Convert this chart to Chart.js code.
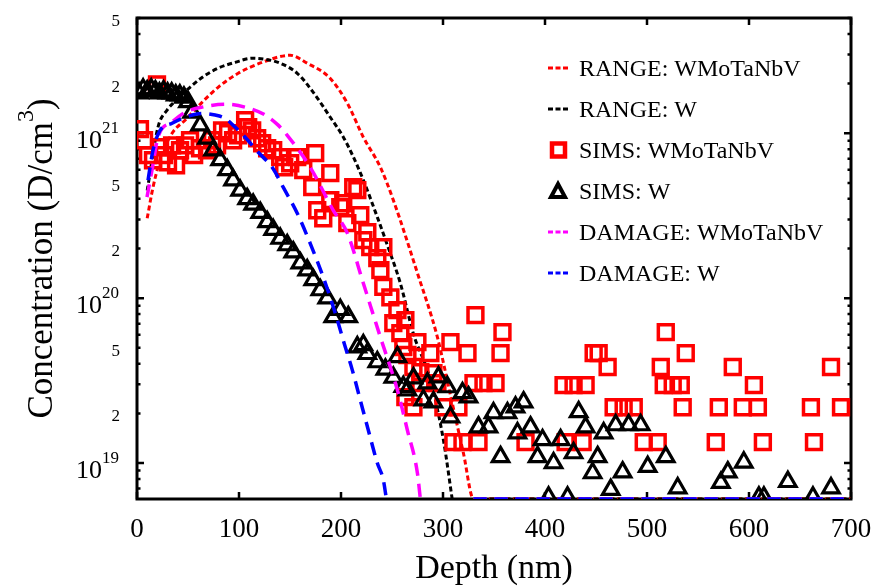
<!DOCTYPE html>
<html>
<head>
<meta charset="utf-8">
<script src="https://cdn.jsdelivr.net/npm/chart.js@4.4.1/dist/chart.umd.min.js"></script>
<style>
  html, body { margin: 0; padding: 0; background: #fff; }
</style>
</head>
<body>
<canvas id="myChart" width="874" height="587"></canvas>
<script>
// depth in nm, concentration in D/cm^3
const rangeWmtDepth = [10, 15.7, 22.6, 34.4, 47.1, 63.8, 79.5, 99.2, 122.7, 150.2, 166.9, 189.5, 206.2, 221.9, 238.6, 251.3, 274.9, 294.5, 307.3, 320, 330, 700];
const rangeWmtConc  = [3.05e20, 4.7e20, 6.86e20, 1.0e21, 1.2e21, 1.54e21, 1.9e21, 2.31e21, 2.69e21, 2.97e21, 2.66e21, 2.15e21, 1.52e21, 9.46e20, 6.22e20, 3.93e20, 1.42e20, 5.8e19, 2.58e19, 1.15e19, 6.05e18, 6.05e18];

const rangeWDepth = [10, 20.6, 29.5, 40.3, 52, 63.8, 79.5, 96.2, 112.9, 125.7, 140.4, 157.1, 172.8, 189.5, 202.2, 212, 221.9, 235.6, 245.4, 258.2, 270.9, 287.6, 300.4, 309, 320, 330, 700];
const rangeWConc  = [4.5e20, 1.09e21, 1.38e21, 1.63e21, 1.9e21, 2.18e21, 2.48e21, 2.69e21, 2.85e21, 2.81e21, 2.66e21, 2.31e21, 1.77e21, 1.25e21, 9.5e20, 7.2e20, 5.2e20, 3.1e20, 2.1e20, 1.23e20, 6.1e19, 3.2e19, 1.38e19, 6.05e18, null, 6.05e18, 6.05e18];

const damageWmtDepth = [9.8, 14.7, 20.6, 34.4, 47.1, 63.8, 86.4, 106, 125.7, 138.4, 147.3, 169.8, 192.4, 206.2, 221.9, 238.6, 255.3, 265.1, 274.9, 277.8, 300, 330, 700];
const damageWmtConc  = [4.1e20, 5.97e20, 9.46e20, 1.17e21, 1.34e21, 1.44e21, 1.5e21, 1.44e21, 1.29e21, 1.12e21, 9.72e20, 6.22e20, 3.41e20, 2.48e20, 1.23e20, 5.8e19, 2.77e19, 1.58e19, 8.7e18, 6.05e18, null, 6.05e18, 6.05e18];

const damageWDepth = [10.8, 15.7, 22.6, 34.4, 47.1, 63.8, 76.6, 86.4, 96.2, 106, 118.8, 132.5, 143.3, 157.1, 169.8, 182.6, 194.4, 204.2, 211.1, 218.9, 226.8, 235.6, 241.5, 244.5, 300, 330, 700];
const damageWConc  = [5.19e20, 7.89e20, 1.04e21, 1.15e21, 1.25e21, 1.32e21, 1.29e21, 1.23e21, 1.09e21, 9.46e20, 7.67e20, 6.22e20, 4.71e20, 3.27e20, 2.15e20, 1.34e20, 8.1e19, 5.05e19, 3.66e19, 2.41e19, 1.58e19, 1.0e19, 7.9e18, 6.05e18, null, 6.05e18, 6.05e18];

const simsWDepth = [2, 6, 10, 14, 18, 22, 26, 30, 34, 38, 42, 46, 50,
  54, 61.8, 68.7, 74.6, 81.5, 88.4, 94.2, 101.1, 108, 113.9, 120.8, 127.6, 133.5, 140.4, 147.3, 153.2, 160.1, 166.9, 172.8, 179.7, 186.5,
  192.4, 199.3, 207.1, 216, 221.9, 225.8, 235.6, 243.5, 251.3, 255.3, 261.1,
  265.1, 271, 280.8, 284.7, 290.6, 295.5, 304.3, 307.3, 319.1, 325, 334.8, 344.6, 349.5, 356.4, 363.2, 371.1, 373, 379, 385.8, 392.7, 397.6,
  403.5, 408.4, 415.3, 422.1, 428, 433, 439.8, 446.7, 451.6, 457.5, 464.4, 469.3, 476.1, 482, 493.8, 500.7, 518.4, 530.1,
  572.4, 579.2, 594.9, 609.7, 614.6, 638.1, 662.7, 680.4];
const simsWConc = [1.75e21, 1.85e21, 1.8e21, 1.85e21, 1.8e21, 1.75e21, 1.8e21, 1.75e21, 1.75e21, 1.7e21, 1.7e21, 1.65e21, 1.55e21,
  1.34e21, 1.12e21, 9.3e20, 7.9e20, 6.9e20, 6.0e20, 5.2e20, 4.5e20, 4.0e20, 3.7e20, 3.3e20, 2.9e20, 2.6e20, 2.3e20, 2.1e20, 1.9e20, 1.63e20, 1.48e20, 1.29e20, 1.12e20, 1.0e20,
  7.7e19, 8.5e19, 7.7e19, 5.05e19, 5.2e19, 4.6e19, 4.1e19, 3.7e19, 3.3e19, 4.4e19, 2.9e19,
  2.77e19, 3.27e19, 2.41e19, 3.05e19, 2.34e19, 3.32e19, 2.89e19, 1.9e19, 2.66e19, 2.51e19, 1.65e19, 1.65e19, 2.01e19, 1.09e19, 2.01e19, 2.18e19, 1.52e19, 2.34e19, 1.65e19, 1.09e19, 1.38e19,
  6.2e18, 1.0e19, 1.38e19, 6.2e18, 1.15e19, 2.04e19, 1.65e19, 8.7e18, 1.09e19, 1.52e19, 6.9e18, 1.7e19, 8.8e18, 1.7e19, 1.7e19, 9.5e18, 1.09e19, 7.05e18,
  7.6e18, 8.8e18, 1.01e19, 6.2e18, 6.2e18, 7.7e18, 6.2e18, 7.05e18];

const simsWmtDepth = [2.9, 6.9, 10.8, 15.7, 19.6, 22.6, 26.5, 30.4, 34.4, 38.3, 42.2, 47.1, 52, 56, 61.8, 68.7, 73.6, 78.5, 83.4, 89.3, 94.2, 99.2,
  106, 109, 112.9, 117.8, 122.7, 127.6, 133.5, 140.4, 144.3, 150.2, 157.1, 163, 171.8, 174.7, 176.7, 182.6, 189.5, 189.5, 199.3, 202.2, 206.2,
  212, 216, 218.9, 221.9, 225.8, 228.7, 235.6, 241.5, 238.6, 241.5, 248.4, 255.3, 251.3, 258.2, 263.1, 261.1, 274.9, 265.1, 287.6, 271, 277.8,
  290.6, 307.3, 324, 331.8, 358.3, 356.4, 263.1, 271, 300.4, 315.1, 277.8, 294.5, 329.9, 339.7, 351.5, 310.2, 319.1, 334.8, 380.9, 420.2, 436.9,
  418.2, 428, 439.8, 447.7, 452.6, 461.4, 467.3, 477.1, 487, 496.8, 510.5, 518.4, 538, 513.5, 516.4, 525.2, 533.1, 535, 567.4, 570.4, 584.1,
  593.9, 604.8, 608.7, 613.6, 660.7, 663.7, 680.4, 690.2];
const simsWmtConc = [1.06e21, 9.07e20, 7.36e20, 6.86e20, 1.98e21, 8.22e20, 7.36e20, 6.67e20, 8.45e20, 6.4e20, 7.89e20, 8.45e20, 9.07e20, 7.36e20, 8.11e20, 7.89e20, 9.07e20, 8.45e20, 1.04e21, 1.0e21, 9.07e20, 9.72e20,
  1.2e21, 1.09e21, 1.04e21, 9.33e20, 8.7e20, 8.11e20, 7.89e20, 7.16e20, 6.22e20, 6.58e20, 7.16e20, 5.97e20, 4.71e20, 7.57e20, 3.41e20, 3.05e20, 5.73e20, 3.93e20, 3.56e20, 3.76e20, 2.85e20,
  4.71e20, 4.52e20, 3.19e20, 2.25e20, 2.51e20, 2.04e20, 1.75e20, 2.04e20, 1.48e20, 1.17e20, 1.01e20, 8.45e19, 7.05e19, 6.13e19, 7.36e19, 5.05e19, 5.41e19, 4.52e19, 4.64e19, 3.82e19, 3.56e19,
  3.51e19, 5.41e19, 4.64e19, 7.89e19, 6.22e19, 4.64e19, 2.51e19, 2.18e19, 2.18e19, 2.18e19, 3.05e19, 3.05e19, 3.05e19, 3.05e19, 3.05e19, 1.34e19, 1.34e19, 1.34e19, 1.34e19, 1.34e19, 1.34e19,
  2.97e19, 2.97e19, 2.97e19, 4.64e19, 4.64e19, 3.82e19, 2.18e19, 2.18e19, 2.18e19, 1.34e19, 1.34e19, 6.22e19, 4.64e19, 3.82e19, 2.97e19, 2.97e19, 2.97e19, 2.18e19, 1.34e19, 2.18e19, 3.82e19,
  2.18e19, 2.97e19, 2.18e19, 1.34e19, 2.18e19, 1.34e19, 3.82e19, 2.18e19];

const xTicks = [0, 100, 200, 300, 400, 500, 600, 700];
const yMajorTicks = [1e19, 1e20, 1e21];
const yMinorLabels = [2e19, 5e19, 2e20, 5e20, 2e21, 5e21];
const legendLabels = ['RANGE: WMoTaNbV', 'RANGE: W', 'SIMS: WMoTaNbV', 'SIMS: W', 'DAMAGE: WMoTaNbV', 'DAMAGE: W'];

const yMin = 6.05e18, yMax = 5e21;
const serif = "'Liberation Serif', 'Times New Roman', serif";

function pts(xs, ys) {
  return xs.map((x, i) => ({x: x, y: ys[i]}));
}

const ctx = document.getElementById('myChart');

const lineBase = {type: 'line', pointRadius: 0, fill: false, cubicInterpolationMode: 'monotone', spanGaps: false};

const frame = {
  id: 'frame',
  beforeDatasetsDraw(chart) {
    const {ctx, chartArea: a, scales: {x, y}} = chart;
    ctx.save();
    ctx.strokeStyle = '#000';
    ctx.lineWidth = 2.5;
    ctx.beginPath();
    xTicks.forEach(v => {
      const px = x.getPixelForValue(v);
      ctx.moveTo(px, a.bottom); ctx.lineTo(px, a.bottom - 7);
      ctx.moveTo(px, a.top); ctx.lineTo(px, a.top + 7);
    });
    for (let d = 18; d <= 21; d++) {
      for (let m = 1; m <= 9; m++) {
        const v = m * Math.pow(10, d);
        if (v < yMin || v > yMax) continue;
        const py = y.getPixelForValue(v);
        const len = m === 1 ? 7 : 3.5;
        ctx.moveTo(a.left, py); ctx.lineTo(a.left + len, py);
        ctx.moveTo(a.right, py); ctx.lineTo(a.right - len, py);
      }
    }
    ctx.stroke();
    ctx.lineWidth = 3;
    ctx.strokeRect(a.left, a.top, a.right - a.left, a.bottom - a.top);
    ctx.restore();
  },
  afterDraw(chart) {
    const {ctx, chartArea: a, scales: {x, y}} = chart;
    ctx.save();
    ctx.fillStyle = '#000';

    // x tick labels
    ctx.font = '27px ' + serif;
    ctx.textAlign = 'center';
    ctx.textBaseline = 'alphabetic';
    xTicks.forEach(v => ctx.fillText(String(v), x.getPixelForValue(v), 537));

    // y tick labels
    ctx.textAlign = 'right';
    ctx.font = '17px ' + serif;
    yMinorLabels.forEach(v => {
      const lab = String(Math.round(v / Math.pow(10, Math.floor(Math.log10(v)))));
      ctx.fillText(lab, 120, y.getPixelForValue(v) + 8);
    });
    yMajorTicks.forEach(v => {
      const py = y.getPixelForValue(v);
      const ex = String(Math.round(Math.log10(v)));
      ctx.font = '17px ' + serif;
      const w = ctx.measureText(ex).width;
      ctx.fillText(ex, 119, py);
      ctx.font = '26px ' + serif;
      ctx.fillText('10', 119 - w, py + 15);
    });

    // axis titles
    ctx.textAlign = 'center';
    ctx.font = '34px ' + serif;
    ctx.fillText('Depth (nm)', (a.left + a.right) / 2, 578);

    ctx.save();
    ctx.translate(52, (a.top + a.bottom) / 2);
    ctx.rotate(-Math.PI / 2);
    ctx.textAlign = 'left';
    const p1 = 'Concentration (D/cm', p2 = '3', p3 = ')';
    ctx.font = '35px ' + serif;
    const w1 = ctx.measureText(p1).width, w3 = ctx.measureText(p3).width;
    ctx.font = '24px ' + serif;
    const w2 = ctx.measureText(p2).width;
    let sx = -(w1 + w2 + w3) / 2;
    ctx.font = '35px ' + serif;
    ctx.fillText(p1, sx, 0);
    ctx.font = '24px ' + serif;
    ctx.fillText(p2, sx + w1, -19);
    ctx.font = '35px ' + serif;
    ctx.fillText(p3, sx + w1 + w2, 0);
    ctx.restore();

    // legend
    ctx.textAlign = 'left';
    ctx.font = '24px ' + serif;
    chart.data.datasets.forEach((ds, i) => {
      const cy = 68 + i * 41;
      ctx.strokeStyle = ds.borderColor;
      if (ds.type === 'line') {
        ctx.lineWidth = 3;
        ctx.setLineDash([5, 2.5]);
        ctx.beginPath();
        ctx.moveTo(548, cy); ctx.lineTo(568, cy);
        ctx.stroke();
        ctx.setLineDash([]);
      } else if (ds.pointStyle === 'rect') {
        ctx.lineWidth = 4.5;
        ctx.strokeRect(552, cy - 6.5, 13, 13);
      } else {
        ctx.lineWidth = 4;
        ctx.lineJoin = 'miter';
        ctx.beginPath();
        ctx.moveTo(558, cy - 7); ctx.lineTo(565, cy + 6); ctx.lineTo(551, cy + 6); ctx.closePath();
        ctx.stroke();
      }
      ctx.fillStyle = '#000';
      ctx.fillText(legendLabels[i], 579, cy + 8);
    });
    ctx.restore();
  }
};

new Chart(ctx, {
  data: {
    datasets: [
      Object.assign({}, lineBase, {data: pts(rangeWmtDepth, rangeWmtConc), borderColor: '#ff0000', borderWidth: 3, borderDash: [5, 3], order: 5}),
      Object.assign({}, lineBase, {data: pts(rangeWDepth, rangeWConc), borderColor: '#000000', borderWidth: 3, borderDash: [5, 3], order: 4}),
      {type: 'scatter', data: pts(simsWmtDepth, simsWmtConc), pointStyle: 'rect', pointRadius: 10.5, borderWidth: 3.5,
        borderColor: '#ff0000', backgroundColor: 'rgba(0,0,0,0)', order: 3},
      {type: 'scatter', data: pts(simsWDepth, simsWConc), pointStyle: 'triangle', pointRadius: 9.5, borderWidth: 3.2,
        borderColor: '#000000', backgroundColor: 'rgba(0,0,0,0)', order: 2},
      Object.assign({}, lineBase, {data: pts(damageWmtDepth, damageWmtConc), borderColor: '#ff00ff', borderWidth: 3.5, borderDash: [13, 8], order: 1}),
      Object.assign({}, lineBase, {data: pts(damageWDepth, damageWConc), borderColor: '#0000ff', borderWidth: 3.5, borderDash: [13, 8], order: 0})
    ]
  },
  options: {
    responsive: false,
    animation: false,
    layout: {padding: {left: 137, right: 23, top: 18, bottom: 88}},
    plugins: {legend: {display: false}, tooltip: {enabled: false}},
    scales: {
      x: {type: 'linear', min: 0, max: 700, display: false},
      y: {type: 'logarithmic', min: yMin, max: yMax, display: false}
    }
  },
  plugins: [frame]
});
</script>
</body>
</html>
